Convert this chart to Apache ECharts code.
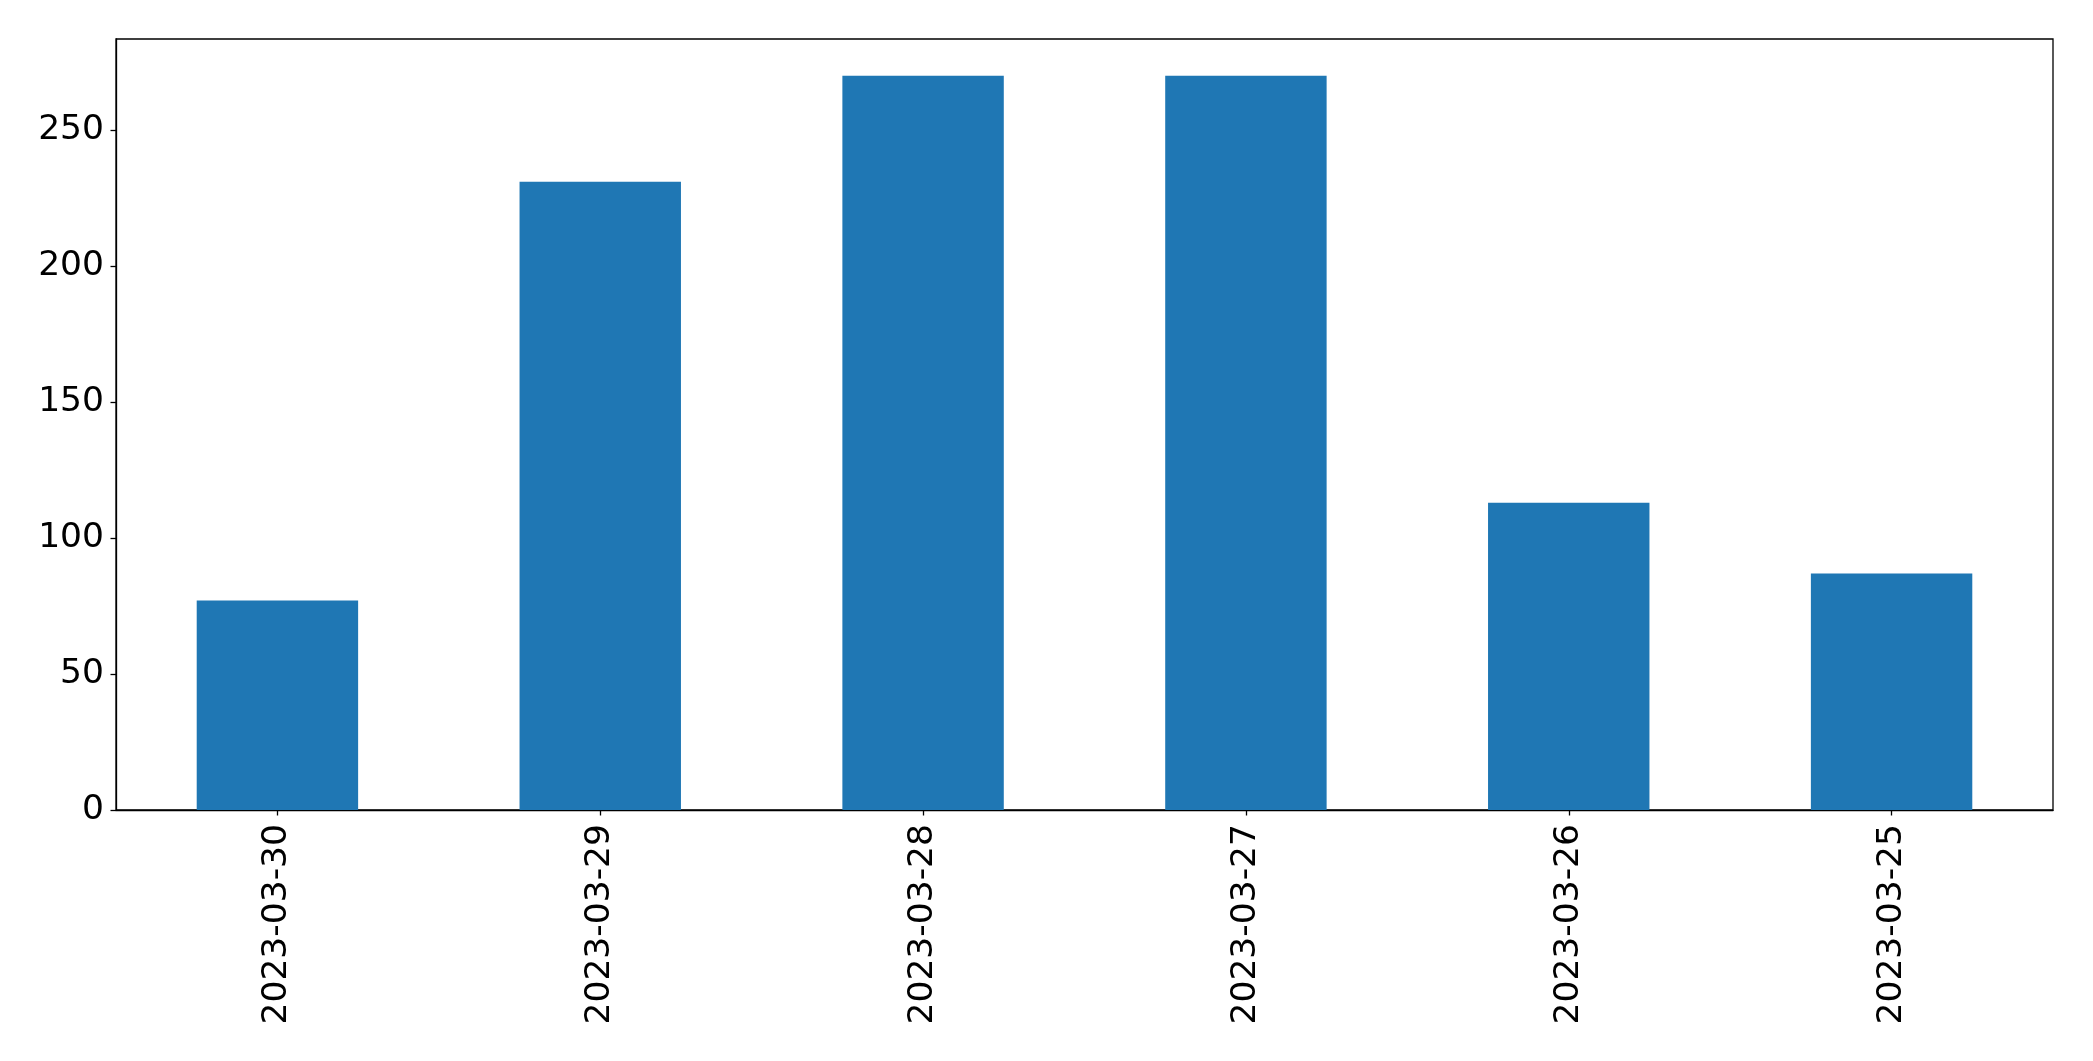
<!DOCTYPE html>
<html>
<head>
<meta charset="utf-8">
<script src="https://cdn.jsdelivr.net/npm/echarts@6/dist/echarts.min.js"></script>
<style>html,body{margin:0;padding:0;background:#fff}#c{width:2093px;height:1061px}</style>
</head>
<body>
<div id="c"></div>
<script>
const categories = ['2023-03-30', '2023-03-29', '2023-03-28', '2023-03-27', '2023-03-26', '2023-03-25'];
const values = [77, 231, 270, 270, 113, 87];
const yTicks = [0, 50, 100, 150, 200, 250];

const chart = echarts.init(document.getElementById('c'), null, {renderer: 'canvas'});
const font = 'DejaVu Sans';
chart.setOption({
  animation: false,
  backgroundColor: '#ffffff',
  grid: {left: 116, right: 40, top: 39, bottom: 251, show: true, borderColor: '#000', borderWidth: 1.3, containLabel: false},
  xAxis: {
    type: 'category',
    data: categories,
    axisLine: {show: true, lineStyle: {color: '#000', width: 1.3}},
    axisTick: {show: true, alignWithLabel: true, length: 5.5, lineStyle: {color: '#000', width: 1.3}},
    axisLabel: {rotate: 90, color: '#000', fontFamily: font, fontSize: 34.5, margin: 14},
    splitLine: {show: false}
  },
  yAxis: {
    type: 'value',
    min: 0,
    max: 283.5,
    interval: 50,
    axisLine: {show: true, lineStyle: {color: '#000', width: 1.3}},
    axisTick: {show: true, length: 5.5, customValues: yTicks, lineStyle: {color: '#000', width: 1.3}},
    axisLabel: {color: '#000', fontFamily: font, fontSize: 34.5, margin: 12, padding: [6, 0, 0, 0], customValues: yTicks},
    splitLine: {show: false}
  },
  series: [{
    type: 'bar',
    data: values,
    barWidth: '50%',
    itemStyle: {color: '#1f77b4'}
  }]
});
</script>
</body>
</html>
